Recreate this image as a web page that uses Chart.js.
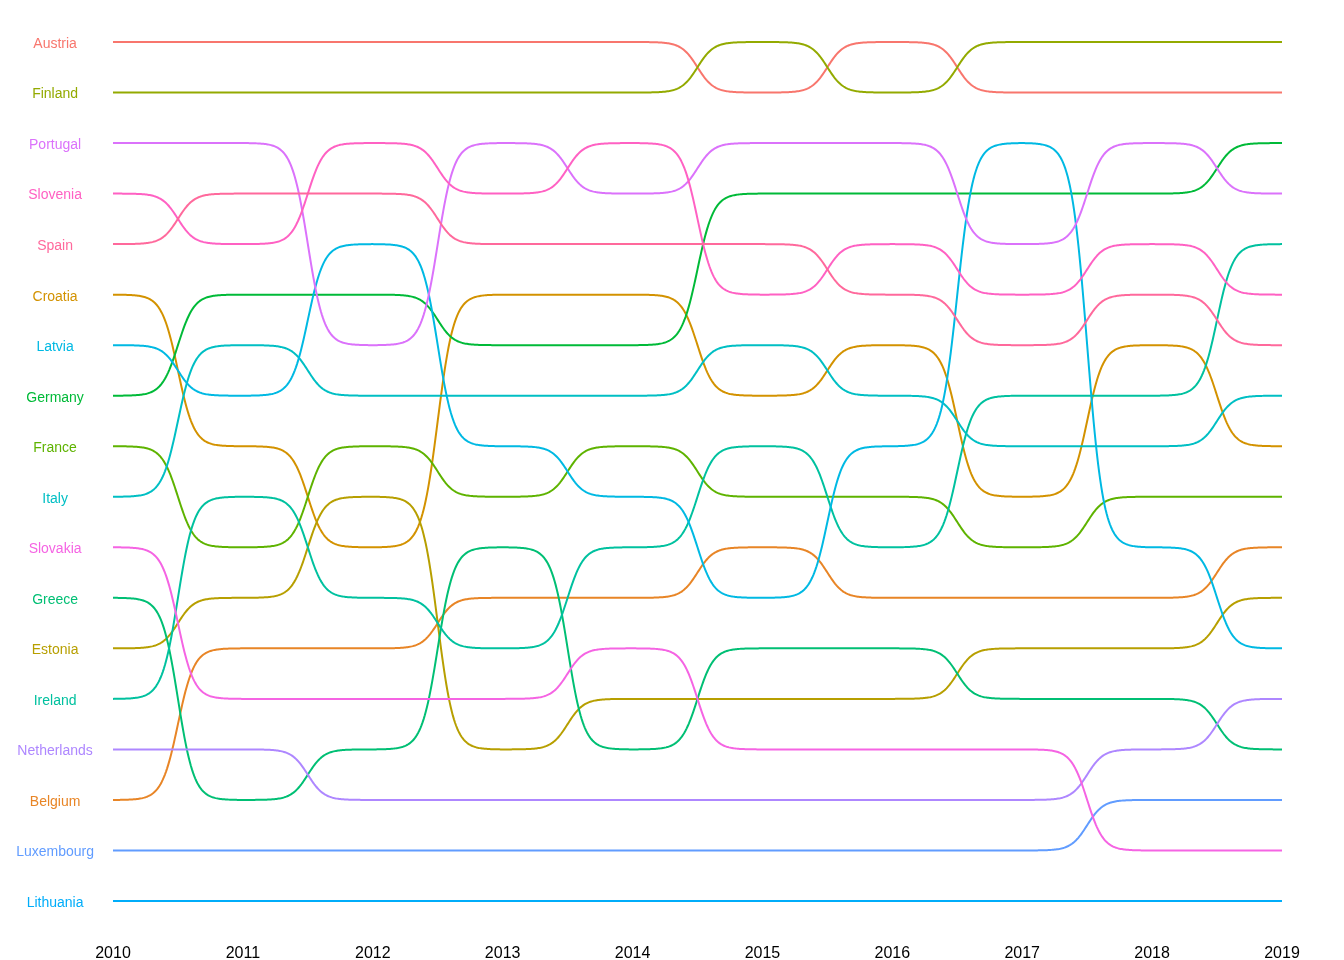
<!DOCTYPE html>
<html>
<head>
<meta charset="utf-8">
<script src="https://cdn.jsdelivr.net/npm/chart.js@4"></script>
<style>
html,body{margin:0;padding:0;background:#ffffff;}
#wrap{width:1344px;height:960px;position:relative;}
</style>
</head>
<body>
<div id="wrap"><canvas id="c" width="1344" height="960"></canvas></div>
<script>
// ---- data ----
const years = [2010, 2011, 2012, 2013, 2014, 2015, 2016, 2017, 2018, 2019];
const countries = ['Austria','Belgium','Croatia','Estonia','Finland','France','Germany','Greece','Ireland','Italy','Latvia','Lithuania','Luxembourg','Netherlands','Portugal','Slovakia','Slovenia','Spain'];
const colors = ['#F8766D','#E88526','#D39200','#B79F00','#93AA00','#5EB300','#00BA38','#00BF74','#00C19F','#00BFC4','#00B9E3','#00ADFA','#619CFF','#AE87FF','#DB72FB','#F564E3','#FF61C3','#FF699C'];

// rank per year (1 = top)
const austria     = [1, 1, 1, 1, 1, 2, 1, 2, 2, 2];
const belgium     = [16,13,13,12,12,11,12,12,12,11];
const croatia     = [6, 9, 11,6, 6, 8, 7, 10,7, 9];
const estonia     = [13,12,10,15,14,14,14,13,13,12];
const finland     = [2, 2, 2, 2, 2, 1, 2, 1, 1, 1];
const france      = [9, 11,9, 10,9, 10,10,11,10,10];
const germany     = [8, 6, 6, 7, 7, 4, 4, 4, 4, 3];
const greece      = [12,16,15,11,15,13,13,14,14,15];
const ireland     = [14,10,12,13,11,9, 11,8, 8, 5];
const italy       = [10,7, 8, 8, 8, 7, 8, 9, 9, 8];
const latvia      = [7, 8, 5, 9, 10,12,9, 3, 11,13];
const lithuania   = [18,18,18,18,18,18,18,18,18,18];
const luxembourg  = [17,17,17,17,17,17,17,17,16,16];
const netherlands = [15,15,16,16,16,16,16,16,15,14];
const portugal    = [3, 3, 7, 3, 4, 3, 3, 5, 3, 4];
const slovakia    = [11,14,14,14,13,15,15,15,17,17];
const slovenia    = [4, 5, 3, 4, 3, 6, 5, 6, 5, 6];
const spain       = [5, 4, 4, 5, 5, 5, 6, 7, 6, 7];

const ranks = [austria, belgium, croatia, estonia, finland, france, germany, greece, ireland, italy, latvia, lithuania, luxembourg, netherlands, portugal, slovakia, slovenia, spain];
const rankTicks = [1,2,3,4,5,6,7,8,9,10,11,12,13,14,15,16,17,18];

function countryAtStart(r) {
  return ranks.findIndex(a => a[0] === r);
}

const FONT = "'Liberation Sans', Arial, sans-serif";

// sigmoid (bump) drawing between the scale-positioned points
const bumpPlugin = {
  id: 'bump',
  afterDatasetsDraw(chart) {
    const ctx = chart.ctx;
    const smooth = 8;
    const k0 = 1 / (1 + Math.exp(smooth));
    const k1 = 1 / (1 + Math.exp(-smooth));
    chart.data.datasets.forEach((ds, i) => {
      const pts = chart.getDatasetMeta(i).data;
      if (!pts.length) return;
      ctx.save();
      ctx.beginPath();
      ctx.strokeStyle = ds.borderColor;
      ctx.lineWidth = 2;
      ctx.lineJoin = 'round';
      ctx.lineCap = 'butt';
      ctx.moveTo(pts[0].x, pts[0].y);
      for (let j = 1; j < pts.length; j++) {
        const a = pts[j - 1], b = pts[j];
        if (Math.abs(a.y - b.y) < 0.01) { ctx.lineTo(b.x, b.y); continue; }
        const n = 120;
        for (let s = 1; s <= n; s++) {
          const t = -smooth + 2 * smooth * s / n;
          const f = (1 / (1 + Math.exp(-t)) - k0) / (k1 - k0);
          ctx.lineTo(a.x + (b.x - a.x) * s / n, a.y + (b.y - a.y) * f);
        }
      }
      ctx.stroke();
      ctx.restore();
    });
  }
};

const datasets = countries.map((name, i) => ({
  label: name,
  data: years.map((yr, j) => ({ x: yr, y: ranks[i][j] })),
  borderColor: colors[i],
  backgroundColor: colors[i],
  showLine: false,
  pointRadius: 0,
  pointHoverRadius: 0
}));

new Chart(document.getElementById('c').getContext('2d'), {
  type: 'line',
  data: { datasets },
  options: {
    responsive: false,
    animation: false,
    events: [],
    layout: { padding: { top: 42, right: 62, bottom: 0, left: 0 } },
    plugins: { legend: { display: false }, tooltip: { enabled: false } },
    scales: {
      x: {
        type: 'linear',
        min: 2010,
        max: 2019,
        grid: { display: false, drawTicks: false },
        border: { display: false },
        afterBuildTicks: s => { s.ticks = years.map(v => ({ value: v })); },
        afterFit: s => { s.height = 59; },
        ticks: {
          padding: 43,
          autoSkip: false,
          maxRotation: 0,
          color: '#000000',
          font: { family: FONT, size: 16 },
          callback: v => String(v)
        }
      },
      y: {
        type: 'linear',
        reverse: true,
        min: 1,
        max: 18,
        grid: { display: false, drawTicks: false },
        border: { display: false },
        afterBuildTicks: s => { s.ticks = rankTicks.map(v => ({ value: v })); },
        afterFit: s => { s.width = 113; },
        ticks: {
          padding: 19,
          labelOffset: 2,
          crossAlign: 'center',
          autoSkip: false,
          font: { family: FONT, size: 14 },
          color: c => { const i = countryAtStart(c.tick ? c.tick.value : 0); return i >= 0 ? colors[i] : '#000'; },
          callback: v => { const i = countryAtStart(v); return i >= 0 ? countries[i] : ''; }
        }
      }
    }
  },
  plugins: [bumpPlugin]
});
</script>
</body>
</html>
